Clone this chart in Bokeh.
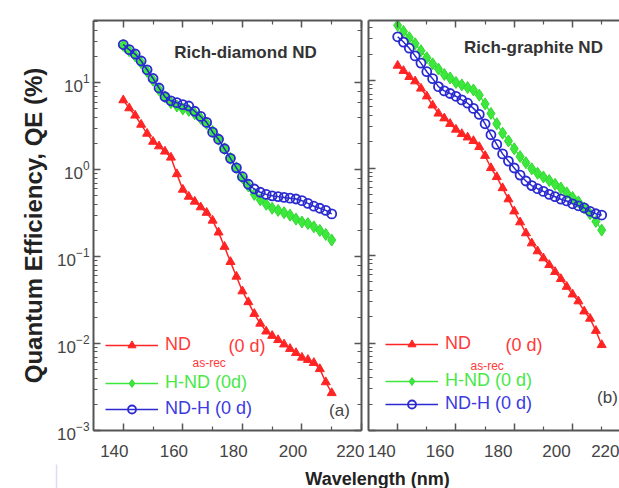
from bokeh.plotting import figure
from bokeh.models import (Range1d, LinearAxis, LogAxis, FixedTicker,
                          Legend, LegendItem, Label, CustomJSTickFormatter,
                          BoxAnnotation)
from bokeh.layouts import row, column
from bokeh.embed import file_html
from bokeh.resources import INLINE

# ---------------- data ----------------
wavelength = [140, 142, 144, 146, 148, 150, 152, 154, 156, 158, 160, 162,
              164, 166, 168, 170, 172, 174, 176, 178, 180, 182, 184, 186,
              188, 190, 192, 194, 196, 198, 200, 202, 204, 206, 208, 210]

# (a) Rich-diamond ND
qe_a_asrec = [6.3, 5.1, 4.2, 3.3, 2.6, 2.1, 1.86, 1.62, 1.38, 0.89, 0.59, 0.49,
              0.43, 0.37, 0.32, 0.26, 0.19, 0.13, 0.087, 0.059, 0.040, 0.030,
              0.022, 0.017, 0.0138, 0.0123, 0.011, 0.0098, 0.0087, 0.0078,
              0.0069, 0.0065, 0.0060, 0.0051, 0.0036, 0.0027]
qe_a_hnd = [26.9, 23.4, 20.4, 17.0, 13.5, 10.7, 8.3, 6.9, 5.9, 5.4, 5.0, 4.8,
            4.4, 3.9, 3.4, 2.75, 2.24, 1.74, 1.35, 1.05, 0.81, 0.65, 0.52, 0.45,
            0.40, 0.36, 0.34, 0.32, 0.30, 0.27, 0.25, 0.24, 0.22, 0.20, 0.18, 0.155]
qe_a_ndh = [27.5, 24.0, 21.4, 17.8, 14.1, 11.2, 8.7, 6.9, 6.2, 5.9, 5.6, 5.4,
            4.7, 4.1, 3.5, 2.7, 2.24, 1.74, 1.35, 1.05, 0.83, 0.68, 0.60, 0.55,
            0.52, 0.50, 0.49, 0.48, 0.47, 0.46, 0.44, 0.41, 0.38, 0.36, 0.34, 0.31]

# (b) Rich-graphite ND
qe_b_asrec = [14.8, 12.9, 11.0, 9.8, 8.1, 6.6, 5.2, 4.2, 3.7, 3.2, 2.75, 2.45,
              2.24, 2.04, 1.74, 1.38, 1.0, 0.79, 0.59, 0.44, 0.32, 0.24, 0.18,
              0.138, 0.112, 0.093, 0.078, 0.065, 0.054, 0.044, 0.036, 0.030,
              0.023, 0.019, 0.0138, 0.0095]
qe_b_hnd = [42.7, 36.3, 30.9, 26.3, 21.9, 18.2, 15.5, 13.5, 11.7, 10.7, 9.5, 8.9,
            8.3, 7.8, 6.8, 5.4, 4.2, 3.2, 2.5, 2.04, 1.66, 1.35, 1.15, 0.98,
            0.87, 0.79, 0.72, 0.65, 0.59, 0.52, 0.46, 0.41, 0.35, 0.30, 0.245, 0.195]
qe_b_ndh = [31.6, 27.5, 23.4, 19.1, 15.8, 12.6, 10.5, 8.5, 7.6, 7.1, 6.6, 6.0,
            5.5, 4.8, 4.1, 3.2, 2.4, 1.86, 1.45, 1.2, 1.0, 0.83, 0.71, 0.63,
            0.58, 0.54, 0.50, 0.47, 0.44, 0.42, 0.39, 0.37, 0.35, 0.32, 0.30, 0.29]

x_major_ticks = [140, 160, 180, 200, 220]
x_minor_ticks = [150, 170, 190, 210]

series_labels = ["ND", "H-ND (0d)", "ND-H (0 d)"]
series_labels_b = ["ND", "H-ND (0 d)", "ND-H (0 d)"]

# ---------------- style ----------------
FONT = "Liberation Sans"
RED, GREEN, BLUE = "#ff2424", "#3de83d", "#2a2ad0"
RED_T, GREEN_T, BLUE_T = "#ff3a3a", "#48e848", "#3b3be0"
AX = "#555555"
FIG_H = 464


def style_axis(ax, show_labels):
    ax.axis_line_color = AX
    ax.axis_line_width = 2
    ax.major_tick_line_color = AX
    ax.major_tick_line_width = 1.5
    ax.minor_tick_line_color = AX
    ax.minor_tick_line_width = 1.2
    ax.major_tick_in = 7
    ax.major_tick_out = 0
    ax.minor_tick_in = 4
    ax.minor_tick_out = 0
    ax.major_label_text_font = FONT
    if show_labels:
        ax.major_label_text_font_size = "17px"
        ax.major_label_text_color = "#444444"
    else:
        ax.formatter = CustomJSTickFormatter(code="return ''")
        ax.major_label_text_font_size = "8px"
        ax.major_label_standoff = 0


def make_panel(width, y_end, x_end, label_shift, min_left, min_right, min_top,
               show_ylabels):
    p = figure(width=width, height=FIG_H, x_range=Range1d(130, x_end),
               y_range=Range1d(0.001, y_end), y_axis_type="log",
               output_backend="svg", toolbar_location=None,
               min_border_left=min_left, min_border_right=min_right,
               min_border_top=min_top, min_border_bottom=FIG_H - 430)
    p.grid.visible = False
    p.outline_line_color = None
    p.background_fill_color = "white"
    p.border_fill_color = "white"

    # tick marks (inward) on the frame
    p.xaxis.ticker = FixedTicker(ticks=x_major_ticks, minor_ticks=x_minor_ticks)
    style_axis(p.xaxis[0], False)

    # tick labels (the reference prints them a little left of the marks)
    p.extra_x_ranges = {"lab": Range1d(130 + label_shift, x_end + label_shift)}
    lab = LinearAxis(x_range_name="lab", ticker=FixedTicker(ticks=x_major_ticks))
    lab.axis_line_color = None
    lab.major_tick_in = 0
    lab.major_tick_out = 0
    lab.minor_tick_in = 0
    lab.minor_tick_out = 0
    lab.major_label_standoff = 14
    lab.major_label_text_font = FONT
    lab.major_label_text_font_size = "17px"
    lab.major_label_text_color = "#444444"
    p.add_layout(lab, "below")

    style_axis(p.yaxis[0], show_ylabels)
    if show_ylabels:
        p.yaxis.major_label_standoff = 4

    top = LinearAxis(ticker=FixedTicker(ticks=x_major_ticks, minor_ticks=x_minor_ticks))
    style_axis(top, False)
    p.add_layout(top, "above")
    return p


def add_series(p, asrec, hnd, ndh, labels, legend_pos):
    r1l = p.line(wavelength, asrec, line_color=RED, line_width=1.5)
    r1s = p.scatter(wavelength, asrec, marker="triangle", size=9,
                    fill_color=RED, line_color=RED)
    r2l = p.line(wavelength, hnd, line_color=GREEN, line_width=1.5)
    r2s = p.scatter(wavelength, hnd, marker="diamond", size=12,
                    fill_color=GREEN, line_color="#30d830")
    r3l = p.line(wavelength, ndh, line_color=BLUE, line_width=1.5)
    r3s = p.scatter(wavelength, ndh, marker="circle", size=9,
                    fill_color=None, line_color=BLUE, line_width=1.8)
    rend = [(r1l, r1s, RED_T), (r2l, r2s, GREEN_T), (r3l, r3s, BLUE_T)]
    for (rl, rs, tc), lab, pos in zip(rend, labels, legend_pos):
        leg = Legend(items=[LegendItem(label=lab, renderers=[rl, rs])],
                     location=pos, padding=0, margin=0, spacing=0,
                     glyph_width=53, glyph_height=20, label_height=20,
                     label_standoff=7, background_fill_alpha=0,
                     border_line_color=None,
                     label_text_font=FONT, label_text_font_size="18px",
                     label_text_color=tc)
        p.add_layout(leg)


def txt(p, x, y, s, size, color, bold=False, align="left", baseline="middle"):
    p.add_layout(Label(x=x, y=y, x_units="screen", y_units="screen", text=s,
                       text_font=FONT, text_font_size=size,
                       text_font_style="bold" if bold else "normal",
                       text_color=color, text_align=align,
                       text_baseline=baseline))


# ---------------- panel (a) ----------------
p1 = make_panel(364, 52, 220, 3.0, 93, 3, 17, True)
p1.yaxis.axis_label = "Quantum Efficiency, QE (%)"
p1.yaxis.axis_label_text_font = FONT
p1.yaxis.axis_label_text_font_size = "24px"
p1.yaxis.axis_label_text_font_style = "bold"
p1.yaxis.axis_label_text_color = "#222222"
p1.yaxis.axis_label_standoff = 7
right = LogAxis()
style_axis(right, False)
p1.add_layout(right, "right")

add_series(p1, qe_a_asrec, qe_a_hnd, qe_a_ndh, series_labels,
           [(12, 75), (12, 37), (12, 11)])
txt(p1, 99, 68, "as-rec", "12px", RED_T)
txt(p1, 135, 85, "(0 d)", "18px", RED_T)
txt(p1, 152, 378, "Rich-diamond ND", "17px", "#333333", bold=True, align="center")
txt(p1, 246, 20, "(a)", "17px", "#444444", align="center")

# ---------------- panel (b) ----------------
p2 = make_panel(255, 48.5, 216.1, 5.5, 4, 0, 20, False)
add_series(p2, qe_b_asrec, qe_b_hnd, qe_b_ndh, series_labels_b,
           [(17, 76), (17, 39), (17, 16)])
txt(p2, 102, 65, "as-rec", "12px", RED_T)
txt(p2, 137, 86, "(0 d)", "18px", RED_T)
txt(p2, 165, 383, "Rich-graphite ND", "17px", "#333333", bold=True, align="center")
txt(p2, 239, 33, "(b)", "17px", "#444444", align="center")

# ---------------- shared x label ----------------
p3 = figure(width=619, height=488 - FIG_H, x_range=Range1d(0, 1),
            y_range=Range1d(0, 1), output_backend="svg",
            toolbar_location=None, min_border=0,
            x_axis_location=None, y_axis_location=None)
p3.grid.visible = False
p3.outline_line_color = None
txt(p3, 377, 10, "Wavelength (nm)", "18px", "#222222", bold=True,
    align="center", baseline="alphabetic")
# stray bracket line at lower left of the reference page
p3.add_layout(BoxAnnotation(left=-20, right=56, top=-20, bottom=100,
                            left_units="canvas", right_units="canvas",
                            top_units="canvas", bottom_units="canvas",
                            fill_color=None, line_color="#8c8cf0",
                            line_width=1.5, level="overlay"))

layout = column(row(p1, p2), p3)
open("out.html", "w").write(file_html(layout, INLINE))
